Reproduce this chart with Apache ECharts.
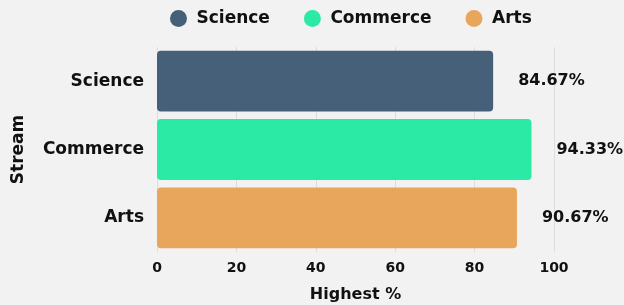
<!DOCTYPE html>
<html><head><meta charset="utf-8">
<script src="https://cdn.jsdelivr.net/npm/echarts@6/dist/echarts.min.js"></script>
<style>html,body{margin:0;padding:0;background:#f2f2f2;}#c{width:624px;height:305px;}</style>
</head><body><div id="c"></div>
<script>
const categories = ['Science', 'Commerce', 'Arts'];
const values = [84.67, 94.33, 90.67];
const colors = ['#47607a', '#2aeaa5', '#e8a65c'];
const xTicks = [0, 20, 40, 60, 80, 100];

const FONT = 'DejaVu Sans';
const chart = echarts.init(document.getElementById('c'));
const series = categories.map((name, i) => ({
  name: name,
  type: 'bar',
  stack: 'all',
  data: categories.map((c, j) => j === i ? values[i] : null),
  itemStyle: { color: colors[i], borderRadius: 4 },
  barCategoryGap: '11%',
  label: {
    show: true, position: 'right', distance: 25,
    formatter: p => p.value.toFixed(2) + '%',
    color: '#111', fontFamily: FONT, fontWeight: 'bold', fontSize: 16
  }
}));
chart.setOption({
  backgroundColor: '#f2f2f2',
  animation: false,
  legend: {
    top: 5, left: 165, itemGap: 34,
    icon: 'circle', itemWidth: 26, itemHeight: 17,
    textStyle: { fontFamily: FONT, fontWeight: 'bold', fontSize: 17, color: '#111' },
    data: categories
  },
  grid: { left: 157, right: 70, top: 47, bottom: 53, outerBoundsMode: 'none', containLabel: false },
  xAxis: {
    type: 'value', min: 0, max: 100, interval: 20,
    name: 'Highest %', nameLocation: 'middle', nameGap: 35,
    nameTextStyle: { fontFamily: FONT, fontWeight: 'bold', fontSize: 16, color: '#111' },
    axisLabel: { fontFamily: FONT, fontWeight: 'bold', fontSize: 14, color: '#111', margin: 9,
      formatter: v => xTicks.includes(v) ? String(v) : '' },
    axisLine: { show: false }, axisTick: { show: false },
    splitLine: { lineStyle: { color: '#dddddd', width: 1 } }
  },
  yAxis: {
    type: 'category', data: categories, inverse: true,
    name: 'Stream', nameLocation: 'middle', nameGap: 130, nameRotate: 90,
    nameTextStyle: { fontFamily: FONT, fontWeight: 'bold', fontSize: 17, color: '#111' },
    axisLabel: { fontFamily: FONT, fontWeight: 'bold', fontSize: 17, color: '#111', margin: 13 },
    axisLine: { show: false }, axisTick: { show: false }
  },
  series: series
});
</script></body></html>
